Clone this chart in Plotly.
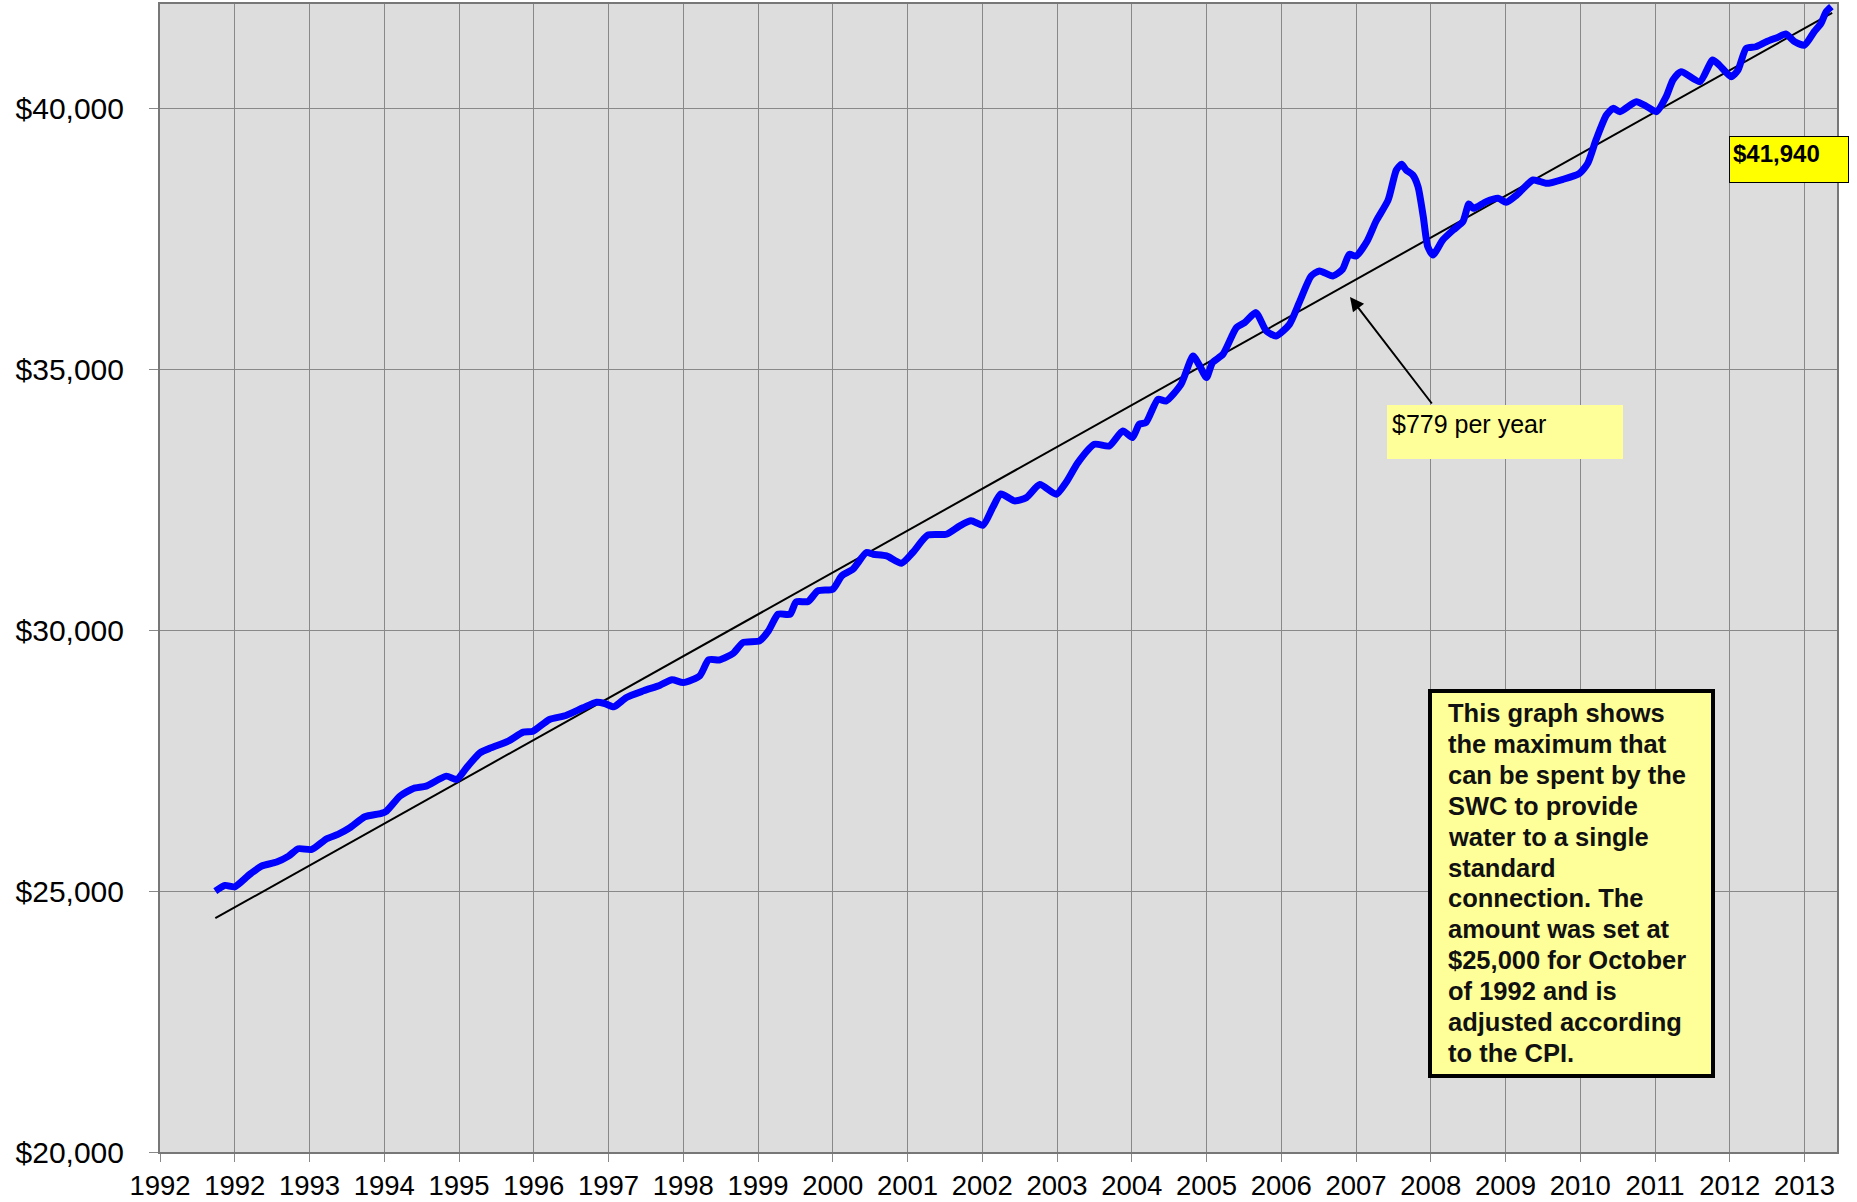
import plotly.graph_objects as go

# ---- data ----
years = [1992.74, 1992.87, 1993.00, 1993.20, 1993.36, 1993.56, 1993.72, 1993.85, 1994.03, 1994.23,
         1994.38, 1994.54, 1994.74, 1994.96, 1995.03, 1995.21, 1995.39, 1995.56, 1995.83, 1995.97,
         1996.10, 1996.28, 1996.43, 1996.66, 1996.86, 1996.99, 1997.21, 1997.43, 1997.66, 1997.84,
         1997.95, 1998.07, 1998.24, 1998.47, 1998.69, 1998.85, 1999.00, 1999.22, 1999.34, 1999.49,
         1999.67, 1999.80, 2000.02, 2000.14, 2000.27, 2000.43, 2000.51, 2000.67, 2000.80, 2001.00,
         2001.12, 2001.27, 2001.45, 2001.54, 2001.72, 2001.92, 2002.07, 2002.27, 2002.52, 2002.70,
         2002.85, 2003.01, 2003.14, 2003.25, 2003.43, 2003.59, 2003.77, 2003.99, 2004.12, 2004.28,
         2004.50, 2004.70, 2004.88, 2005.01, 2005.10, 2005.19, 2005.35, 2005.46, 2005.66, 2005.82,
         2005.91, 2006.00, 2006.08, 2006.22, 2006.40, 2006.51, 2006.66, 2006.80, 2006.93, 2007.11,
         2007.24, 2007.40, 2007.51, 2007.69, 2007.82, 2007.91, 2008.00, 2008.15, 2008.27, 2008.43,
         2008.54, 2008.61, 2008.67, 2008.76, 2008.83, 2008.90, 2008.96, 2009.03, 2009.16, 2009.30,
         2009.43, 2009.51, 2009.57, 2009.74, 2009.90, 2010.01, 2010.15, 2010.37, 2010.55, 2010.77,
         2010.99, 2011.10, 2011.21, 2011.35, 2011.44, 2011.53, 2011.75, 2011.88, 2012.02, 2012.15,
         2012.24, 2012.35, 2012.60, 2012.77, 2012.86, 2013.02, 2013.11, 2013.22, 2013.35, 2013.49,
         2013.64, 2013.75, 2013.87, 2014.00, 2014.13, 2014.22, 2014.29, 2014.36]
values = [25000, 25109, 25083, 25320, 25480, 25556, 25670, 25811, 25798, 26003,
          26086, 26213, 26424, 26488, 26533, 26820, 26967, 27012, 27203, 27139,
          27363, 27650, 27746, 27874, 28046, 28065, 28289, 28365, 28512, 28620,
          28595, 28531, 28710, 28838, 28946, 29048, 28997, 29125, 29432, 29432,
          29559, 29764, 29796, 29987, 30307, 30307, 30543, 30549, 30754, 30785,
          31041, 31169, 31488, 31456, 31424, 31284, 31488, 31820, 31839, 31999,
          32095, 32012, 32350, 32610, 32478, 32541, 32790, 32605, 32829, 33212,
          33563, 33531, 33819, 33691, 33946, 33978, 34425, 34393, 34713, 35255,
          35064, 34840, 35128, 35287, 35798, 35894, 36086, 35734, 35639, 35862,
          36277, 36788, 36884, 36788, 36916, 37203, 37171, 37459, 37842, 38244,
          38819, 38927, 38819, 38723, 38499, 37925, 37350, 37190, 37477, 37669,
          37829, 38167, 38084, 38212, 38276, 38199, 38340, 38627, 38563, 38640,
          38755, 38946, 39393, 39872, 40000, 39936, 40128, 40045, 39936, 40224,
          40543, 40702, 40511, 40926, 40830, 40607, 40734, 41149, 41181, 41277,
          41360, 41424, 41277, 41213, 41469, 41628, 41852, 41948]

trend_years = [1992.74, 2014.37]
trend_values = [24480, 41830]

tick_positions = list(range(1992, 2015))
tick_labels = ["1992"] + [str(y) for y in range(1992, 2014)]

final_label = "$41,940"
slope_label = "$779 per year"
note_lines = ["This graph shows", "the maximum that", "can be spent by the", "SWC to provide",
              "water to a single", "standard", "connection. The", "amount was set at",
              "$25,000 for October", "of 1992 and is", "adjusted according", "to the CPI."]

# ---- layout geometry (pixels) ----
W, H = 1857, 1202
L, R, T, B = 160, 1837, 4, 1152
XMIN, XMAX = 1992.0, 1992.0 + (R - L) / 74.75
YMIN, YMAX = 20000, 42000

def px_x(px):
    return (px - L) / (R - L)

def px_y(py):
    return (B - py) / (B - T)

def dx(px):
    return XMIN + (px - L) / (R - L) * (XMAX - XMIN)

def dy(py):
    return YMIN + (B - py) / (B - T) * (YMAX - YMIN)

FONT = "Liberation Sans, Arial, sans-serif"

fig = go.Figure()
fig.add_trace(go.Scatter(x=trend_years, y=trend_values, mode="lines",
                         line=dict(color="black", width=2), hoverinfo="skip"))
fig.add_trace(go.Scatter(x=years, y=values, mode="lines",
                         line=dict(color="#0000FF", width=7, shape="spline", smoothing=0.6)))

annotations = []
# arrow
annotations.append(dict(x=dx(1350), y=dy(297), xref="x", yref="y", text="",
                        showarrow=True, ax=83, ay=108, axref="pixel", ayref="pixel",
                        arrowhead=2, arrowsize=1.4, arrowwidth=2, arrowcolor="black"))
# $779 per year box
annotations.append(dict(x=px_x(1387), y=px_y(405), xref="paper", yref="paper",
                        xanchor="left", yanchor="top", text=slope_label, showarrow=False,
                        font=dict(family=FONT, size=25, color="black"),
                        bgcolor="#FFFF99", borderpad=5, borderwidth=0,
                        width=226, height=44, align="left", valign="top"))
# $41,940 box
annotations.append(dict(x=px_x(1729), y=px_y(136), xref="paper", yref="paper",
                        xanchor="left", yanchor="top", text="<b>" + final_label + "</b>",
                        showarrow=False,
                        font=dict(family=FONT, size=24, color="black"),
                        bgcolor="#FFFF00", bordercolor="black", borderwidth=1, borderpad=3,
                        width=112, height=39, align="left", valign="top"))
# note lines
for i, line in enumerate(note_lines):
    annotations.append(dict(x=px_x(1446), y=px_y(713 + 30.9 * i), xref="paper", yref="paper",
                            xanchor="left", yanchor="middle", text="<b>" + line + "</b>",
                            showarrow=False,
                            font=dict(family=FONT, size=25.5, color="#111111")))

shapes = [dict(type="rect", xref="paper", yref="paper",
               x0=px_x(1430), x1=px_x(1713), y0=px_y(691), y1=px_y(1076),
               fillcolor="#FFFF99", line=dict(color="black", width=4), layer="above")]

fig.update_layout(
    width=W, height=H,
    margin=dict(l=L, r=W - R, t=T, b=H - B, autoexpand=False),
    paper_bgcolor="white", plot_bgcolor="#DDDDDD",
    showlegend=False,
    font=dict(family=FONT, color="black"),
    annotations=annotations,
    shapes=shapes,
)
fig.update_xaxes(range=[XMIN, XMAX], tickvals=tick_positions, ticktext=tick_labels,
                 showgrid=True, gridcolor="#888888", gridwidth=1,
                 showline=True, linecolor="#777777", linewidth=2, mirror=True,
                 ticks="outside", ticklen=8, tickcolor="#888888",
                 tickfont=dict(family=FONT, size=27.5, color="black"),
                 ticklabelstandoff=0, zeroline=False, automargin=False)
fig.update_yaxes(range=[YMIN, YMAX], tickvals=[20000, 25000, 30000, 35000, 40000],
                 tickformat="$,.0f",
                 showgrid=True, gridcolor="#888888", gridwidth=1,
                 showline=True, linecolor="#777777", linewidth=2, mirror=True,
                 ticks="outside", ticklen=9, tickcolor="#888888",
                 tickfont=dict(family=FONT, size=30, color="black"),
                 ticklabelstandoff=19, zeroline=False, automargin=False)

fig.write_html("out.html", config={"displayModeBar": False},
               post_script="document.body.style.margin='0px';document.body.style.overflow='hidden';")
